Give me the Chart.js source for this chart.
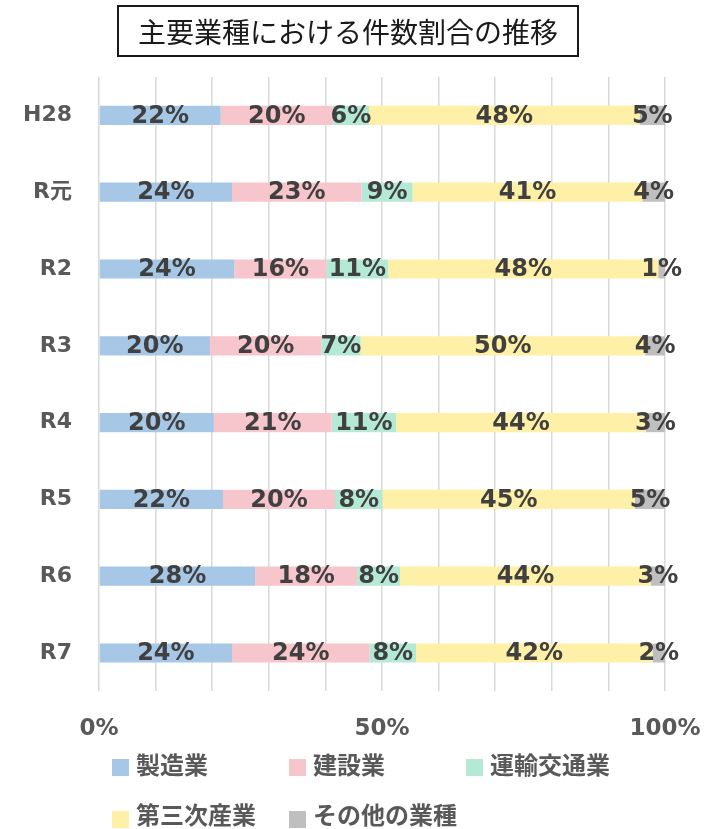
<!DOCTYPE html>
<html>
<head>
<meta charset="utf-8">
<script src="https://cdn.jsdelivr.net/npm/chart.js@4.4.1/dist/chart.umd.min.js"></script>
<style>
  body { margin: 0; background: #fff; }
  #wrap { position: relative; width: 709px; height: 829px; }
  #myChart { position: absolute; left: 0; top: 0; }
  #title {
    position: absolute; left: 117px; top: 5px; width: 458px; height: 48px;
    border: 2px solid #1a1a1a; text-align: center; line-height: 48px;
    font-family: "Noto Sans CJK JP", sans-serif; font-size: 28px; color: #1a1a1a;
  }
  .lg-box { position: absolute; width: 17px; height: 17px; }
  .lg-text {
    position: absolute; font-family: "Noto Sans CJK JP", sans-serif; font-weight: bold;
    font-size: 24px; line-height: 24px; color: #595959; white-space: nowrap;
  }
</style>
</head>
<body>
<div id="wrap">
  <canvas id="myChart" width="709" height="829"></canvas>
  <div id="title">主要業種における件数割合の推移</div>
  <div id="legend"></div>
</div>
<script>
const categories = ["H28", "R元", "R2", "R3", "R4", "R5", "R6", "R7"];
const seriesNames = ["製造業", "建設業", "運輸交通業", "第三次産業", "その他の業種"];
const manufacturing = [21.5, 23.5, 23.9, 19.6, 20.3, 21.9, 27.6, 23.5];
const construction  = [19.8, 22.9, 16.3, 19.7, 20.8, 19.8, 18.0, 24.3];
const transport     = [6.4, 9.0, 10.9, 6.9, 11.4, 8.4, 7.6, 8.2];
const tertiary      = [47.8, 40.6, 47.7, 50.3, 44.1, 44.6, 44.3, 41.8];
const other         = [4.5, 4.0, 1.2, 3.5, 3.4, 5.3, 2.5, 2.2];
const tickLabels = { 0: "0%", 50: "50%", 100: "100%" };

const colors = ["#a7c7e6", "#f7c5cc", "#b3e9d5", "#fff0a8", "#bfbfbf"];
const seriesValues = [manufacturing, construction, transport, tertiary, other];

// labels in the middle of every segment
const segmentLabels = {
    id: "segmentLabels",
    afterDatasetsDraw(chart) {
        const ctx = chart.ctx;
        ctx.save();
        ctx.font = "bold 24px 'DejaVu Sans'";
        ctx.fillStyle = "#404040";
        ctx.textAlign = "center";
        ctx.textBaseline = "middle";
        chart.data.datasets.forEach(function (ds, i) {
            chart.getDatasetMeta(i).data.forEach(function (bar, j) {
                const x = (bar.x + bar.base) / 2;
                ctx.fillText(Math.round(ds.data[j]) + "%", x, bar.y + 1);
            });
        });
        ctx.restore();
    }
};

const config = {
    type: "bar",
    data: {
        labels: categories,
        datasets: seriesNames.map(function (name, i) {
            return {
                label: name,
                data: seriesValues[i],
                backgroundColor: colors[i],
                borderWidth: 0,
                categoryPercentage: 0.5,
                barPercentage: 0.5
            };
        })
    },
    options: {
        indexAxis: "y",
        responsive: false,
        animation: false,
        layout: { padding: { top: 77, right: 44, bottom: 62, left: 0 } },
        plugins: {
            legend: { display: false },
            title: { display: false },
            tooltip: { enabled: false }
        },
        scales: {
            x: {
                stacked: true,
                min: 0,
                max: 100,
                border: { display: false },
                grid: { color: "#d9d9d9", lineWidth: 1.5, drawTicks: false },
                afterFit: function (scale) { scale.paddingLeft = 0; scale.paddingRight = 0; },
                ticks: {
                    stepSize: 10,
                    padding: 24,
                    autoSkip: false,
                    maxRotation: 0,
                    color: "#595959",
                    font: { family: "'DejaVu Sans'", size: 23, weight: "bold" },
                    callback: function (v) { return tickLabels[v] || ""; }
                }
            },
            y: {
                stacked: true,
                border: { display: false },
                grid: { display: false, drawTicks: false },
                afterFit: function (scale) { scale.width = 99; },
                ticks: {
                    padding: 27,
                    color: "#595959",
                    font: { family: "'DejaVu Sans', 'Noto Sans CJK JP'", size: 22, weight: "bold" }
                }
            }
        }
    },
    plugins: [segmentLabels]
};

var myChart = new Chart(document.getElementById("myChart"), config);

// legend in three columns, two rows
const legend = document.getElementById("legend");
seriesNames.forEach(function (name, i) {
    const col = i % 3, row = Math.floor(i / 3);
    const box = document.createElement("div");
    box.className = "lg-box";
    box.style.background = colors[i];
    box.style.left = (112 + col * 177) + "px";
    box.style.top = (759 + row * 52) + "px";
    const txt = document.createElement("div");
    txt.className = "lg-text";
    txt.textContent = name;
    txt.style.left = (136 + col * 177) + "px";
    txt.style.top = (752 + row * 50) + "px";
    legend.appendChild(box);
    legend.appendChild(txt);
});
</script>
</body>
</html>
